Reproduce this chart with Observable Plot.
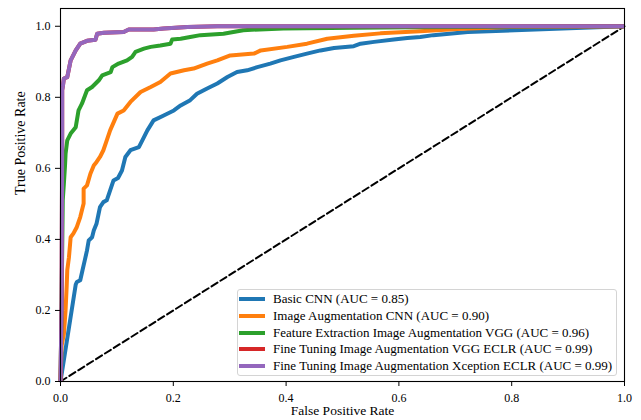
<!DOCTYPE html>
<html><head><meta charset="utf-8">
<script src="https://cdn.jsdelivr.net/npm/d3@7"></script>
<script src="https://cdn.jsdelivr.net/npm/@observablehq/plot@0.6"></script>
<style>
body{margin:0;background:#fff;}
#wrap{position:relative;width:641px;height:420px;font-family:"Liberation Serif",serif;overflow:hidden;}
#legend{position:absolute;left:237px;top:289px;width:380px;height:87px;box-sizing:border-box;border:1px solid #d4d4d4;border-radius:3px;background:rgba(255,255,255,0.85);}
.row{position:absolute;left:0;height:16px;display:flex;align-items:center;font-size:13px;color:#000;white-space:nowrap;}
.sw{display:inline-block;width:26px;height:4px;margin-left:1px;margin-right:8px;}
</style></head>
<body><div id="wrap"><div id="chart"></div><div id="legend"></div></div>
<script>
const seriesNames = [
  "Basic CNN (AUC = 0.85)",
  "Image Augmentation CNN (AUC = 0.90)",
  "Feature Extraction Image Augmentation VGG (AUC = 0.96)",
  "Fine Tuning Image Augmentation VGG ECLR (AUC = 0.99)",
  "Fine Tuning Image Augmentation Xception ECLR (AUC = 0.99)"
];
const seriesColors = ["#1f77b4", "#ff7f0e", "#2ca02c", "#d62728", "#9467bd"];

const fprBasic = [0,0.027,0.029,0.035,0.039,0.043,0.047,0.050,0.056,0.059,0.064,0.067,0.070,0.076,0.082,0.088,0.094,0.102,0.109,0.115,0.124,0.139,0.148,0.154,0.165,0.183,0.201,0.213,0.230,0.242,0.260,0.278,0.296,0.313,0.331,0.349,0.372,0.390,0.414,0.437,0.461,0.485,0.520,0.532,0.556,0.591,0.615,0.638,0.661,0.722,1];
const tprBasic = [0,0.273,0.280,0.285,0.313,0.341,0.369,0.397,0.406,0.425,0.445,0.468,0.491,0.505,0.510,0.538,0.566,0.573,0.594,0.632,0.651,0.660,0.688,0.707,0.735,0.749,0.763,0.777,0.792,0.810,0.825,0.839,0.857,0.871,0.876,0.885,0.895,0.904,0.914,0.923,0.932,0.939,0.944,0.951,0.956,0.963,0.967,0.970,0.975,0.984,1];

const fprAug = [0,0.002,0.006,0.009,0.011,0.012,0.015,0.018,0.023,0.029,0.035,0.041,0.041,0.047,0.053,0.059,0.064,0.070,0.076,0.082,0.088,0.101,0.112,0.124,0.142,0.160,0.177,0.195,0.219,0.236,0.260,0.278,0.301,0.343,0.355,0.402,0.437,0.473,0.520,0.567,0.638,0.704,0.798,1];
const tprAug = [0,0.101,0.134,0.200,0.270,0.313,0.350,0.406,0.417,0.435,0.463,0.501,0.543,0.552,0.585,0.608,0.618,0.632,0.651,0.679,0.707,0.754,0.763,0.787,0.815,0.829,0.843,0.867,0.876,0.881,0.895,0.904,0.918,0.923,0.932,0.942,0.951,0.965,0.973,0.980,0.986,0.992,0.998,1];

const fprVgg = [0,0.002,0.004,0.006,0.008,0.009,0.012,0.018,0.027,0.032,0.038,0.047,0.056,0.068,0.074,0.089,0.092,0.103,0.118,0.127,0.133,0.148,0.160,0.177,0.195,0.198,0.213,0.230,0.248,0.289,0.324,0.395,0.520,0.626,1];
const tprVgg = [0,0.228,0.510,0.557,0.608,0.641,0.679,0.698,0.716,0.763,0.782,0.820,0.829,0.848,0.862,0.871,0.885,0.895,0.904,0.914,0.928,0.937,0.942,0.946,0.951,0.963,0.965,0.970,0.975,0.979,0.989,0.994,0.996,0.997,1];

const fprVggEclr = [0,0.002,0.003,0.003,0.004,0.006,0.012,0.018,0.027,0.035,0.047,0.062,0.065,0.077,0.112,0.121,0.165,0.183,0.225,0.278,1];
const tprVggEclr = [0,0.228,0.707,0.820,0.829,0.853,0.857,0.904,0.932,0.951,0.959,0.962,0.979,0.982,0.984,0.991,0.991,0.994,0.998,1,1];

const fprXcep = [0,0.002,0.003,0.003,0.004,0.006,0.012,0.018,0.027,0.035,0.047,0.062,0.065,0.077,0.112,0.121,0.165,0.183,0.225,0.278,1];
const tprXcep = [0,0.228,0.707,0.820,0.829,0.853,0.857,0.904,0.932,0.951,0.959,0.962,0.979,0.982,0.984,0.991,0.991,0.994,0.998,1,1];

const chanceX = [0, 1];
const chanceY = [0, 1];
const xTicks = [0, 0.2, 0.4, 0.6, 0.8, 1.0];
const yTicks = [0, 0.2, 0.4, 0.6, 0.8, 1.0];
const xLabel = "False Positive Rate";
const yLabel = "True Positive Rate";

const seriesX = [fprBasic, fprAug, fprVgg, fprVggEclr, fprXcep];
const seriesY = [tprBasic, tprAug, tprVgg, tprVggEclr, tprXcep];

const toRows = (xs, ys) => xs.map((x, i) => ({x, y: ys[i]}));

const lineMarks = seriesX.map((xs, k) =>
  Plot.line(toRows(xs, seriesY[k]), {x: "x", y: "y", stroke: seriesColors[k], strokeWidth: 4, strokeLinejoin: "round", strokeLinecap: "butt"})
);

const chart = Plot.plot({
  width: 641, height: 420,
  marginLeft: 60, marginRight: 17, marginTop: 8, marginBottom: 39,
  x: {domain: [0, 1]},
  y: {domain: [0, 1.05]},
  style: {fontFamily: "Liberation Serif, serif", fontSize: "12px", color: "#000", background: "#fff"},
  marks: [
    Plot.line(toRows(chanceX, chanceY), {x: "x", y: "y", stroke: "black", strokeWidth: 2, strokeDasharray: "7,3.5"}),
    ...lineMarks,
    Plot.frame({stroke: "black", strokeWidth: 1.1}),
    Plot.axisX({ticks: xTicks, tickFormat: d3.format(".1f"), tickSize: 5, tickPadding: 7, label: null, fontSize: 12}),
    Plot.axisY({ticks: yTicks, tickFormat: d3.format(".1f"), tickSize: 5, tickPadding: 5, label: null, fontSize: 12}),
    Plot.text([xLabel], {text: d => d, frameAnchor: "bottom", dy: 33, fontSize: 13.5}),
    Plot.text([yLabel], {text: d => d, frameAnchor: "left", dx: -40, rotate: -90, fontSize: 14})
  ]
});
document.getElementById("chart").appendChild(chart);

const legend = document.getElementById("legend");
seriesNames.forEach((name, i) => {
  const row = document.createElement("div");
  row.className = "row";
  row.style.top = (1 + i * 16.75) + "px";
  const sw = document.createElement("span");
  sw.className = "sw";
  sw.style.background = seriesColors[i];
  const t = document.createElement("span");
  t.textContent = name;
  row.appendChild(sw); row.appendChild(t);
  legend.appendChild(row);
});
</script>
</body></html>
